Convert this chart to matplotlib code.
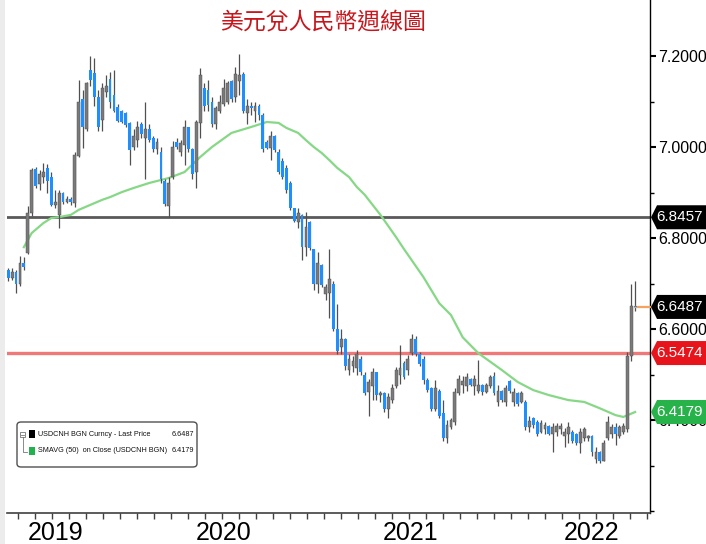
import matplotlib
matplotlib.use('Agg')
import matplotlib.pyplot as plt
import numpy as np
from matplotlib import font_manager
from matplotlib.patches import Polygon, FancyBboxPatch, Rectangle
from matplotlib.transforms import blended_transform_factory
from matplotlib.ticker import FormatStrFormatter

# ---------------- data (weekly USDCNH candles) ----------------
opens = [6.730, 6.712, 6.725, 6.700, 6.745, 6.768, 6.855, 6.952, 6.918, 6.935,
         6.955, 6.935, 6.872, 6.850, 6.898, 6.880, 6.886, 6.878, 6.980, 7.105,
         7.040, 7.170, 7.163, 7.110, 7.060, 7.120, 7.150, 7.115, 7.088, 7.080,
         7.075, 7.053, 7.000, 7.015, 7.050, 7.020, 7.040, 7.020, 6.995, 6.990,
         6.925, 6.870, 6.935, 7.012, 6.990, 7.005, 7.044, 6.995, 6.945, 7.053,
         7.130, 7.125, 7.100, 7.050, 7.080, 7.095, 7.100, 7.145, 7.110, 7.145,
         7.160, 7.075, 7.090, 7.080, 7.090, 7.070, 7.010, 6.998, 7.025, 6.990,
         6.970, 6.955, 6.920, 6.865, 6.835, 6.850, 6.780, 6.835, 6.775, 6.700,
         6.740, 6.677, 6.680, 6.700, 6.600, 6.560, 6.578, 6.510, 6.520, 6.515,
         6.535, 6.500, 6.462, 6.475, 6.505, 6.455, 6.460, 6.425, 6.445, 6.475,
         6.500, 6.525, 6.510, 6.547, 6.578, 6.545, 6.535, 6.488, 6.470, 6.425,
         6.465, 6.415, 6.360, 6.385, 6.395, 6.460, 6.478, 6.475, 6.490, 6.475,
         6.465, 6.478, 6.462, 6.475, 6.498, 6.440, 6.465, 6.440, 6.485, 6.440,
         6.460, 6.440, 6.440, 6.385, 6.405, 6.395, 6.375, 6.380, 6.388, 6.370,
         6.375, 6.380, 6.365, 6.370, 6.375, 6.370, 6.350, 6.360, 6.360, 6.365,
         6.315, 6.330, 6.310, 6.360, 6.370, 6.385, 6.365, 6.375, 6.380, 6.540,
         6.650]
highs = [6.735, 6.735, 6.730, 6.760, 6.758, 6.870, 6.955, 6.957, 6.950, 6.966,
         6.962, 6.945, 6.905, 6.906, 6.902, 6.892, 6.890, 6.990, 7.147, 7.125,
         7.143, 7.200, 7.196, 7.125, 7.140, 7.158, 7.165, 7.170, 7.095, 7.082,
         7.077, 7.055, 7.040, 7.058, 7.055, 7.100, 7.050, 7.025, 7.020, 7.000,
         6.930, 6.934, 7.013, 7.020, 7.015, 7.060, 7.045, 6.998, 7.060, 7.174,
         7.140, 7.147, 7.110, 7.090, 7.115, 7.150, 7.145, 7.147, 7.175, 7.205,
         7.165, 7.105, 7.100, 7.100, 7.095, 7.075, 7.015, 7.035, 7.026, 6.995,
         6.975, 6.960, 6.925, 6.866, 6.866, 6.853, 6.857, 6.838, 6.776, 6.770,
         6.742, 6.700, 6.775, 6.705, 6.655, 6.600, 6.580, 6.545, 6.540, 6.555,
         6.540, 6.505, 6.490, 6.515, 6.505, 6.465, 6.462, 6.460, 6.480, 6.516,
         6.565, 6.530, 6.543, 6.590, 6.585, 6.550, 6.540, 6.492, 6.473, 6.488,
         6.468, 6.445, 6.400, 6.405, 6.470, 6.500, 6.497, 6.503, 6.493, 6.500,
         6.532, 6.480, 6.482, 6.500, 6.505, 6.477, 6.467, 6.477, 6.488, 6.470,
         6.462, 6.465, 6.445, 6.410, 6.407, 6.400, 6.400, 6.395, 6.390, 6.393,
         6.393, 6.393, 6.382, 6.395, 6.378, 6.372, 6.382, 6.385, 6.367, 6.367,
         6.340, 6.332, 6.356, 6.410, 6.392, 6.393, 6.390, 6.393, 6.550, 6.700,
         6.705]
lows = [6.705, 6.708, 6.680, 6.695, 6.730, 6.765, 6.848, 6.910, 6.905, 6.920,
        6.900, 6.870, 6.865, 6.822, 6.875, 6.876, 6.872, 6.868, 6.978, 6.998,
        7.035, 7.135, 7.090, 7.035, 7.035, 7.110, 7.085, 7.078, 7.055, 7.052,
        7.045, 6.960, 6.993, 7.000, 7.020, 6.930, 7.010, 6.990, 6.985, 6.920,
        6.870, 6.846, 6.930, 6.995, 6.980, 6.960, 6.990, 6.930, 6.910, 7.020,
        7.080, 7.080, 7.045, 7.040, 7.075, 7.090, 7.095, 7.100, 7.100, 7.115,
        7.075, 7.050, 7.070, 7.055, 7.060, 6.990, 6.995, 6.972, 6.990, 6.940,
        6.930, 6.900, 6.862, 6.835, 6.822, 6.752, 6.760, 6.774, 6.686, 6.680,
        6.693, 6.664, 6.625, 6.595, 6.545, 6.545, 6.510, 6.500, 6.505, 6.500,
        6.500, 6.455, 6.410, 6.445, 6.445, 6.440, 6.418, 6.405, 6.437, 6.470,
        6.480, 6.490, 6.500, 6.543, 6.540, 6.520, 6.480, 6.462, 6.420, 6.420,
        6.405, 6.355, 6.350, 6.380, 6.390, 6.455, 6.460, 6.465, 6.475, 6.455,
        6.460, 6.455, 6.460, 6.470, 6.455, 6.430, 6.440, 6.430, 6.460, 6.432,
        6.430, 6.438, 6.378, 6.375, 6.383, 6.365, 6.372, 6.370, 6.367, 6.330,
        6.365, 6.370, 6.340, 6.350, 6.350, 6.345, 6.327, 6.355, 6.355, 6.322,
        6.305, 6.305, 6.310, 6.356, 6.360, 6.345, 6.360, 6.370, 6.375, 6.530,
        6.640]
closes = [6.712, 6.725, 6.700, 6.745, 6.737, 6.855, 6.950, 6.915, 6.940, 6.945,
          6.925, 6.872, 6.880, 6.898, 6.880, 6.886, 6.880, 6.982, 7.100, 7.045,
          7.140, 7.148, 7.110, 7.045, 7.130, 7.135, 7.100, 7.080, 7.057, 7.055,
          7.048, 6.993, 7.025, 7.045, 7.028, 7.040, 7.015, 6.995, 7.010, 6.930,
          6.875, 6.920, 7.000, 7.000, 7.008, 7.044, 6.995, 6.940, 7.055, 7.158,
          7.090, 7.092, 7.050, 7.085, 7.100, 7.130, 7.140, 7.105, 7.160, 7.158,
          7.080, 7.090, 7.085, 7.090, 7.070, 6.995, 6.998, 7.025, 6.993, 6.945,
          6.935, 6.905, 6.865, 6.838, 6.855, 6.780, 6.825, 6.778, 6.700, 6.745,
          6.697, 6.692, 6.710, 6.600, 6.552, 6.578, 6.520, 6.535, 6.530, 6.545,
          6.505, 6.460, 6.484, 6.505, 6.455, 6.460, 6.425, 6.450, 6.470, 6.510,
          6.515, 6.495, 6.535, 6.578, 6.545, 6.523, 6.488, 6.466, 6.425, 6.470,
          6.410, 6.360, 6.390, 6.400, 6.462, 6.490, 6.485, 6.495, 6.478, 6.490,
          6.478, 6.462, 6.478, 6.495, 6.460, 6.465, 6.445, 6.470, 6.465, 6.462,
          6.435, 6.460, 6.385, 6.398, 6.390, 6.370, 6.393, 6.390, 6.370, 6.385,
          6.387, 6.388, 6.375, 6.385, 6.355, 6.350, 6.375, 6.380, 6.365, 6.330,
          6.330, 6.310, 6.350, 6.395, 6.385, 6.370, 6.385, 6.388, 6.540, 6.650,
          6.6487]

# 50-week simple moving average (week index, value)
ma_week = [4, 6, 9, 11, 13, 16, 18, 21, 24, 26, 29, 32, 36, 41, 45, 49, 52, 57, 62, 66,
           69, 71, 74, 76, 78, 80, 82, 84, 87, 89, 91, 95, 99, 101, 106, 110, 113, 116,
           120, 126, 130, 134, 138, 143, 147, 151, 155, 157, 160]
ma_value = [6.780, 6.811, 6.833, 6.844, 6.846, 6.851, 6.862, 6.873, 6.884, 6.890,
            6.901, 6.910, 6.921, 6.932, 6.945, 6.978, 7.000, 7.031, 7.044, 7.055,
            7.053, 7.042, 7.031, 7.015, 7.000, 6.987, 6.971, 6.954, 6.934, 6.912,
            6.895, 6.851, 6.802, 6.776, 6.714, 6.657, 6.631, 6.582, 6.547, 6.510,
            6.484, 6.466, 6.455, 6.444, 6.440, 6.426, 6.411, 6.407, 6.4179]

ref_levels = [6.8457, 6.5474]
tag_values = [6.8457, 6.6487, 6.5474, 6.4179]
tag_colors = ['#000000', '#000000', '#e8141c', '#27b24a']

year_labels = ['2019', '2020', '2021', '2022']
year_label_pos = [12.0, 55.1, 102.8, 149.0]

y_major = [6.4, 6.6, 6.8, 7.0, 7.2]
y_minor = [6.2, 6.3, 6.5, 6.7, 6.9, 7.1]

title = '美元兌人民幣週線圖'
legend_rows = [('USDCNH BGN Curncy - Last Price', '6.6487', '#000000'),
               ('SMAVG (50)  on Close (USDCNH BGN)', '6.4179', '#22b14c')]

# ---------------- fonts ----------------
names = {f.name for f in font_manager.fontManager.ttflist}
narrow = 'Liberation Sans Narrow' in names
plt.rcParams['font.family'] = ['Liberation Sans', 'DejaVu Sans']
legend_family = ['Liberation Sans Narrow'] if narrow else ['Liberation Sans']
legend_size = 6.3 if narrow else 5.2

# ---------------- figure ----------------
W, H = 706, 544
fig = plt.figure(figsize=(W / 100, H / 100), dpi=100)
fig.patch.set_facecolor('white')
ax = fig.add_axes([7 / W, 31 / H, 643 / W, 513 / H])
ax.set_facecolor('white')

O = np.array(opens); Hh = np.array(highs); L = np.array(lows); C = np.array(closes)
idx = np.arange(len(C))
up = C >= O
bottoms = np.minimum(O, C)
heights = np.maximum(np.abs(C - O), 0.003)

ax.set_xlim(-0.3, 163.8)
ax.set_ylim(6.196, 7.323)

for lvl, col, lw in zip(ref_levels, ['#5a5a5a', '#f07878'], [2.0, 2.4]):
    ax.axhline(lvl, color=col, lw=lw, zorder=1.5)

ax.plot(ma_week, ma_value, color='#86d886', lw=1.6, zorder=2.2)

ax.vlines(idx, L, Hh, color='#505050', lw=0.9, zorder=2.5)
ax.bar(idx[up], heights[up], bottom=bottoms[up], width=0.72, color='#7a7a7a',
       edgecolor='#4a4a4a', linewidth=0.3, zorder=3)
ax.bar(idx[~up], heights[~up], bottom=bottoms[~up], width=0.72, color='#1e8fff',
       edgecolor='none', zorder=3)

# last price marker line
ax.plot([idx[-1], 163.8], [C[-1], C[-1]], color='#f4a460', lw=1.6, zorder=2.6,
        clip_on=False)

# spines / axes
for s in ['top', 'left']:
    ax.spines[s].set_visible(False)
ax.spines['right'].set_color('#000000')
ax.spines['bottom'].set_color('#404040')
ax.spines['right'].set_linewidth(1.0)
ax.spines['bottom'].set_linewidth(1.2)

ax.yaxis.tick_right()
ax.set_yticks(y_major)
ax.set_yticks(y_minor, minor=True)
ax.yaxis.set_major_formatter(FormatStrFormatter('%.4f'))
ax.tick_params(axis='y', which='major', direction='out', length=4, width=1.5,
               labelsize=11.5, pad=2, colors='#000000')
ax.tick_params(axis='y', which='minor', direction='out', length=3, width=1.0)

ax.set_xticks(year_label_pos)
ax.set_xticklabels(year_labels)
ax.set_xticks(np.arange(2.55, 163.8, 4.337), minor=True)
ax.tick_params(axis='x', which='major', length=0, labelsize=18, pad=6)
ax.tick_params(axis='x', which='minor', direction='out', length=4, width=1.0,
               color='#404040')

# value tags on the right
tr = blended_transform_factory(ax.transAxes, ax.transData)
px = 1 / 643.0
hh = 12 / 455.0
for val, col in zip(tag_values, tag_colors):
    pts = [(1 + 1 * px, val), (1 + 7 * px, val + hh), (1 + 58 * px, val + hh),
           (1 + 58 * px, val - hh), (1 + 7 * px, val - hh)]
    ax.add_patch(Polygon(pts, closed=True, transform=tr, facecolor=col,
                         edgecolor='none', clip_on=False, zorder=10))
    ax.text(1 + 30 * px, val, f'{val:.4f}', transform=tr, color='white',
            fontsize=11, ha='center', va='center', zorder=11, clip_on=False)

# title
fig.text(323 / W, 1 - 22 / H, title, color='#c8161d', fontsize=16.5,
         ha='center', va='center',
         family=['Noto Sans CJK TC', 'DejaVu Sans'])

# left shadow band
fig.add_artist(Rectangle((0, 0), 5 / W, 1, transform=fig.transFigure,
                         facecolor='#ececec', edgecolor='none', zorder=0))

# legend box
def X(p):
    return p / W
def Y(p):
    return 1 - p / H

fig.add_artist(FancyBboxPatch((X(17), Y(467)), X(197) - X(17), Y(422) - Y(467),
                              boxstyle='round,pad=0,rounding_size=0.006',
                              transform=fig.transFigure, facecolor='white',
                              edgecolor='#505050', linewidth=1.0, zorder=5))
# tree icon
fig.add_artist(Rectangle((X(20), Y(437)), 5 / W, 5 / H, transform=fig.transFigure,
                         facecolor='white', edgecolor='#777777', lw=0.6, zorder=6))
fig.add_artist(plt.Line2D([X(21), X(24)], [Y(434.5), Y(434.5)],
                          transform=fig.transFigure, color='#777777', lw=0.6, zorder=6))
fig.add_artist(plt.Line2D([X(22.5), X(22.5), X(27)], [Y(437), Y(452), Y(452)],
                          transform=fig.transFigure, color='#777777', lw=0.6, zorder=6))
for k, (txt, val, col) in enumerate(legend_rows):
    yc = 434 + 17 * k
    fig.add_artist(Rectangle((X(29), Y(yc + 4)), 6 / W, 8 / H, transform=fig.transFigure,
                             facecolor=col, edgecolor='none', zorder=6))
    fig.text(X(38), Y(yc), txt, fontsize=legend_size, family=legend_family,
             va='center', ha='left', color='#111111', zorder=6)
    fig.text(X(194), Y(yc), val, fontsize=legend_size, family=legend_family,
             va='center', ha='right', color='#111111', zorder=6)

fig.savefig('out.png', dpi=100)
